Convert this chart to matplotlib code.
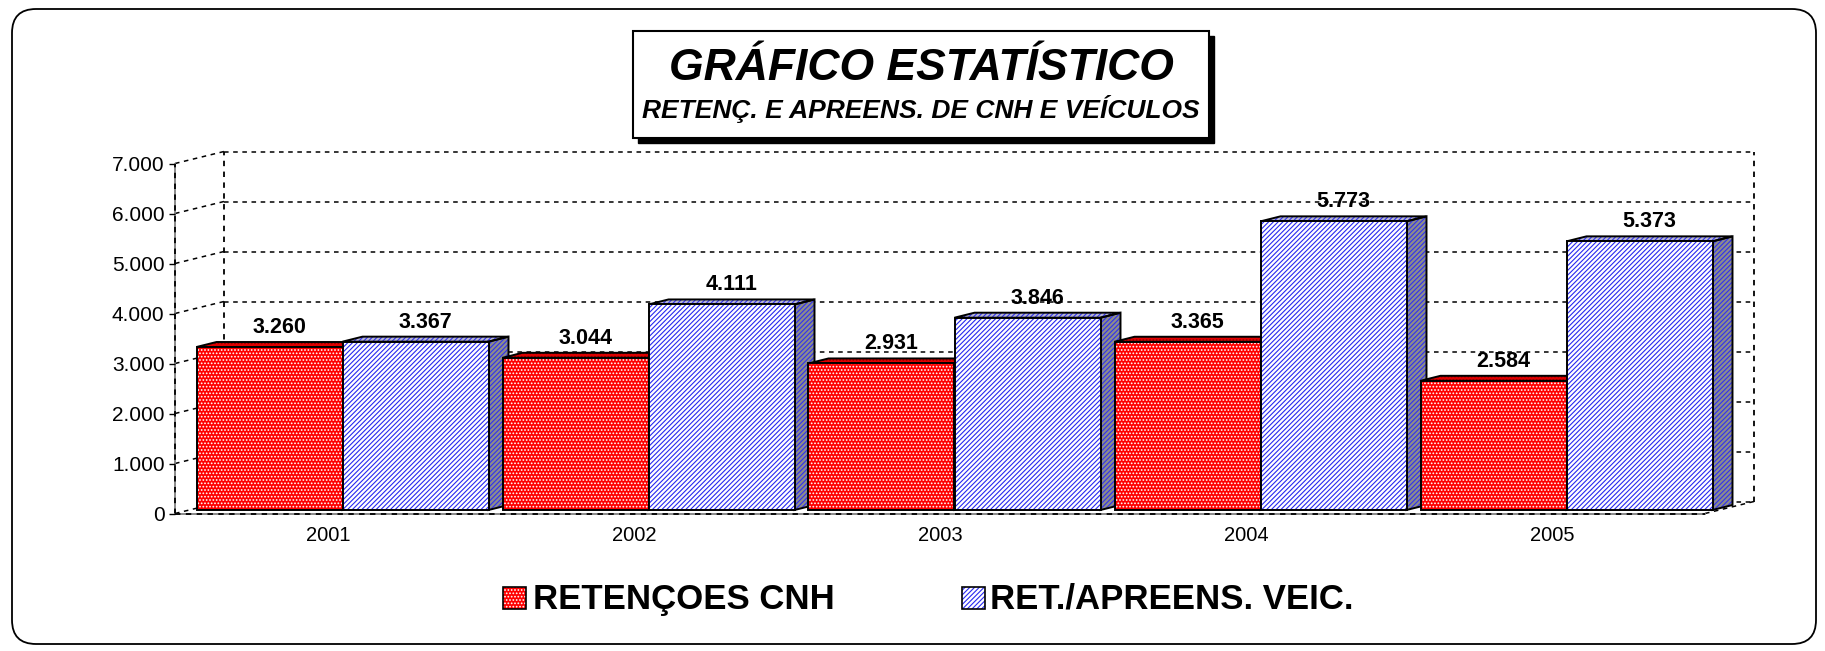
import matplotlib.pyplot as plt
from matplotlib.patches import Polygon, Rectangle, FancyBboxPatch
from matplotlib.ticker import FuncFormatter

plt.rcParams['font.family'] = ['Liberation Sans', 'DejaVu Sans']
plt.rcParams['hatch.linewidth'] = 0.8

anos = ['2001', '2002', '2003', '2004', '2005']
retencoes_cnh = [3260, 3044, 2931, 3365, 2584]
ret_apreens_veic = [3367, 4111, 3846, 5773, 5373]
nomes = ['RETENÇOES CNH', 'RET./APREENS. VEIC.']
yticks = [0, 1000, 2000, 3000, 4000, 5000, 6000, 7000]


def milhar(v, pos=None):
    return f"{int(v):,}".replace(',', '.')


W, H = 1825, 651
fig = plt.figure(figsize=(W / 100, H / 100), dpi=100)

# background axes in pixel units (border, title box, legend)
bg = fig.add_axes([0, 0, 1, 1])
bg.set_xlim(0, W)
bg.set_ylim(H, 0)
bg.axis('off')
bg.add_patch(FancyBboxPatch((12, 9), 1804, 635, boxstyle='round,pad=0,rounding_size=24',
                            fc='white', ec='black', lw=1.3))

# title box with shadow
bg.add_patch(Rectangle((638, 36), 576, 107, fc='black', ec='black'))
bg.add_patch(Rectangle((633, 31), 576, 107, fc='white', ec='black', lw=1.5))
bg.text(921, 68, 'GRÁFICO ESTATÍSTICO', ha='center', va='center',
        fontsize=32, fontweight='bold', fontstyle='italic')
bg.text(921, 109, 'RETENÇ. E APREENS. DE CNH E VEÍCULOS', ha='center', va='center',
        fontsize=19, fontweight='bold', fontstyle='italic')

# front plane of the 3D box
X0, X1, Y0, Y1 = 175, 1705, 513.5, 163.5
ax = fig.add_axes([X0 / W, (H - Y0) / H, (X1 - X0) / W, (Y0 - Y1) / H])
ax.set_facecolor('none')
n = len(anos)
ymax = yticks[-1]
ax.set_xlim(0, n)
ax.set_ylim(0, ymax)
ux = n / (X1 - X0)
uy = ymax / (Y0 - Y1)
DX, DY = 49 * ux, 12 * uy      # wall depth
BX, BY = 20 * ux, 5 * uy       # bar depth
SX, SY = (DX - BX) / 2, (DY - BY) / 2
bw = 146 * ux

for s in ['top', 'right', 'bottom', 'left']:
    ax.spines[s].set_visible(False)

dash = (0, (3, 3))
for k in yticks:
    ax.plot([DX, n + DX], [k + DY, k + DY], color='black', lw=1.1, ls=dash, clip_on=False, zorder=1)
    ax.plot([0, DX], [k, k + DY], color='black', lw=1.1, ls=dash, clip_on=False, zorder=1)
for xx in [DX, n + DX]:
    ax.plot([xx, xx], [DY, ymax + DY], color='black', lw=1.3, ls=dash, clip_on=False, zorder=1)
ax.plot([n, n + DX], [0, DY], color='black', lw=1.1, ls=dash, clip_on=False, zorder=1)
ax.plot([0, 0], [0, ymax], color='gray', lw=1.3, clip_on=False, zorder=1)
ax.plot([0, 0], [0, ymax], color='black', lw=1.3, ls=dash, clip_on=False, zorder=1)
ax.plot([0, n], [0, 0], color='gray', lw=1.3, clip_on=False, zorder=1)
ax.plot([0, n], [0, 0], color='black', lw=1.3, ls=dash, clip_on=False, zorder=1)

ax.set_yticks(yticks)
ax.yaxis.set_major_formatter(FuncFormatter(milhar))
ax.tick_params(axis='y', direction='out', length=4.5, width=1, pad=3, labelsize=15)
ax.set_xticks([i + 0.5 for i in range(n)])
ax.set_xticklabels(anos)
ax.tick_params(axis='x', length=0, pad=9, labelsize=14.5)

estilos = [
    # front face, hatch colour, hatch, top face, top hatch, side face
    ('#ff0000', 'white', '.....', '#e00000', '#900000', '#b00000'),
    ('white', '#2828f0', '///////', '#b8b8d0', '#3030f0', '#8c8c8c'),
]


def face(verts, fc, hc, hatch, z):
    ax.add_patch(Polygon(verts, closed=True, fc=fc, ec=hc, lw=0, hatch=hatch, zorder=z, clip_on=False))
    ax.add_patch(Polygon(verts, closed=True, fill=False, ec='black', lw=1.4, zorder=z + 0.01, clip_on=False))


for s, vals in enumerate([retencoes_cnh, ret_apreens_veic]):
    fc, hc, hatch, tc, thc, sc = estilos[s]
    lefts = [i + 0.5 - bw + s * bw + SX for i in range(n)]
    front = ax.bar(lefts, vals, width=bw, bottom=SY, align='edge', fc=fc, ec=hc, lw=0,
                   hatch=hatch, clip_on=False)
    outl = ax.bar(lefts, vals, width=bw, bottom=SY, align='edge', fill=False, ec='black',
                  lw=1.4, clip_on=False)
    for i, v in enumerate(vals):
        z = 10 + 2 * i + s
        front[i].set_zorder(z + 0.02)
        outl[i].set_zorder(z + 0.03)
        l = lefts[i]
        t = v + SY
        face([(l, t), (l + bw, t), (l + bw + BX, t + BY), (l + BX, t + BY)], tc, thc, hatch, z)
        face([(l + bw, SY), (l + bw + BX, SY + BY), (l + bw + BX, t + BY), (l + bw, t)],
             sc, thc, hatch, z)
        ax.text(l + bw / 2 + BX / 2, t + BY + 4 * uy, milhar(v), ha='center', va='bottom',
                fontsize=15.5, fontweight='bold', zorder=30)

# legend
leg = [(503, 533, 0), (962, 990, 1)]
for mx, tx, s in leg:
    fc, hc, hatch = estilos[s][:3]
    bg.add_patch(Rectangle((mx, 587), 23, 22, fc=fc, ec=hc, lw=0, hatch=hatch))
    bg.add_patch(Rectangle((mx, 587), 23, 22, fill=False, ec='black', lw=1.2))
    bg.text(tx, 599, nomes[s], ha='left', va='center', fontsize=25, fontweight='bold')

fig.savefig('out.png', dpi=100)
